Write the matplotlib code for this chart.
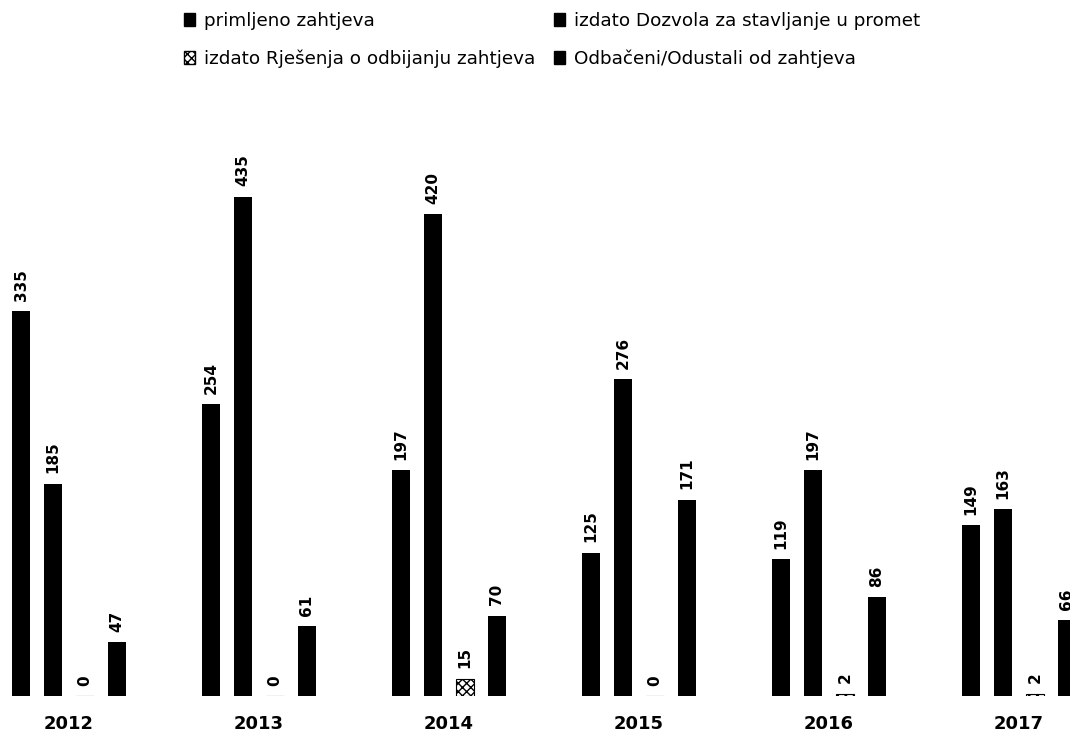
import matplotlib
matplotlib.use("Agg")
import matplotlib.pyplot as plt
import numpy as np
from matplotlib.patches import Patch

years = ["2012", "2013", "2014", "2015", "2016", "2017"]
series_names = [
    "primljeno zahtjeva",
    "izdato Dozvola za stavljanje u promet",
    "izdato Rješenja o odbijanju zahtjeva",
    "Odbačeni/Odustali od zahtjeva",
]
primljeno = [335, 254, 197, 125, 119, 149]
dozvole = [185, 435, 420, 276, 197, 163]
odbijanje = [0, 0, 15, 0, 2, 2]
odbaceni = [47, 61, 70, 171, 86, 66]

W, H = 1070, 735
fig = plt.figure(figsize=(W / 100, H / 100), dpi=100)
fig.patch.set_facecolor("white")

# axes fill the width; baseline near the bottom, legend sits above
base_px, top_px = 696, 130
ax = fig.add_axes([0, (H - base_px) / H, 1, (base_px - top_px) / H])

x = np.arange(len(years))
pitch = 0.168
bw = 0.092
all_series = [primljeno, dozvole, odbijanje, odbaceni]
hatches = [None, None, "xxxx", None]
for k, vals in enumerate(all_series):
    pos = x + (k - 1.5) * pitch
    if hatches[k]:
        ax.bar(pos, vals, bw, facecolor="white", edgecolor="black",
               hatch=hatches[k], linewidth=0.8)
    else:
        ax.bar(pos, vals, bw, color="black")
    for p, v in zip(pos, vals):
        ax.text(p, v + 9, f"{v}", rotation=90, ha="center", va="bottom",
                fontsize=11, fontweight="bold", color="black")

ax.set_xlim(-69 / 190, (W - 69) / 190)
ax.set_ylim(0, (base_px - top_px) / 1.148)
ax.set_xticks(x)
ax.set_xticklabels(years, fontsize=13, fontweight="bold")
ax.tick_params(axis="x", length=0, pad=14)
ax.set_yticks([])
for s in ax.spines.values():
    s.set_visible(False)

# legend: two rows, column-major order so rows read left-to-right
proxies = [Patch(facecolor="black", edgecolor="black"),
           Patch(facecolor="black", edgecolor="black"),
           Patch(facecolor="white", edgecolor="black", hatch="xxxx"),
           Patch(facecolor="black", edgecolor="black")]
order = [0, 2, 1, 3]
fig.legend([proxies[i] for i in order], [series_names[i] for i in order],
           ncol=2, loc="upper left", bbox_to_anchor=(184 / W, 1 - 12 / H),
           frameon=False, fontsize=13.2, handlelength=0.6, handleheight=0.7,
           handletextpad=0.5, columnspacing=1.0, labelspacing=1.05,
           borderpad=0, borderaxespad=0)

fig.savefig("out.png", dpi=100)
